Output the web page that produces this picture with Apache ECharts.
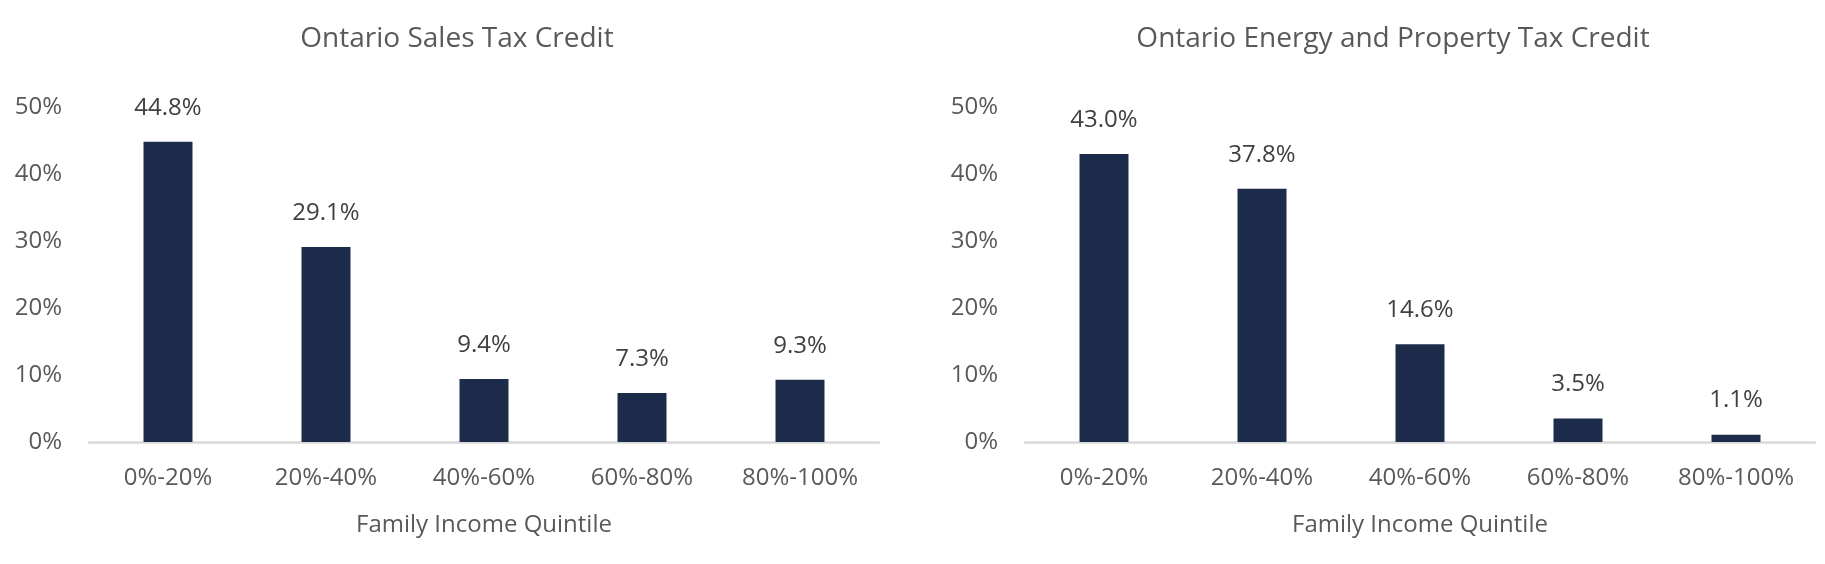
<!DOCTYPE html>
<html>
<head>
<meta charset="utf-8">
<script src="https://cdn.jsdelivr.net/npm/echarts@6/dist/echarts.min.js"></script>
<style>
  html, body { margin: 0; padding: 0; background: #fff; }
  #chart { width: 1825px; height: 564px; }
</style>
</head>
<body>
<div id="chart"></div>
<script>
const quintiles = ['0%-20%', '20%-40%', '40%-60%', '60%-80%', '80%-100%']
const salesTaxCredit = [44.8, 29.1, 9.4, 7.3, 9.3]
const energyPropertyCredit = [43.0, 37.8, 14.6, 3.5, 1.1]
const chartTitles = ['Ontario Sales Tax Credit', 'Ontario Energy and Property Tax Credit']
const axisTitle = 'Family Income Quintile'

const textColor = '#595959'
const barColor = '#1c2b4a'
const font = 'Open Sans'

function xAxisFor(idx) {
    return {
        type: 'category',
        gridIndex: idx,
        data: quintiles,
        name: axisTitle,
        nameLocation: 'middle',
        nameGap: 71,
        nameTextStyle: { color: textColor, fontSize: 24, fontFamily: font },
        axisLine: { lineStyle: { color: '#d9d9d9', width: 2.5 } },
        axisTick: { show: false },
        axisLabel: { color: textColor, fontSize: 24, fontFamily: font, margin: 24 }
    }
}

function yAxisFor(idx) {
    return {
        type: 'value',
        gridIndex: idx,
        min: 0,
        max: 50,
        interval: 10,
        splitLine: { show: false },
        axisLine: { show: false },
        axisTick: { show: false },
        axisLabel: {
            color: textColor, fontSize: 24, fontFamily: font, margin: 27,
            formatter: '{value}%'
        }
    }
}

function barSeries(idx, values) {
    return {
        type: 'bar',
        xAxisIndex: idx,
        yAxisIndex: idx,
        data: values,
        barWidth: '31%',
        itemStyle: { color: barColor },
        label: {
            show: true,
            position: 'top',
            distance: 22,
            color: '#404040',
            fontSize: 24,
            fontFamily: font,
            lineHeight: 24,
            formatter: p => p.value.toFixed(1) + '%'
        },
        silent: true,
        animation: false
    }
}

const chart = echarts.init(document.getElementById('chart'))

// titles sit over the middle of each half of the picture
chart.setOption({
    backgroundColor: '#fff',
    animation: false,
    title: [
        {
            text: chartTitles[0], left: 457, top: 25, padding: 0, textAlign: 'center',
            textStyle: { color: textColor, fontSize: 28, fontWeight: 'normal', fontFamily: font }
        },
        {
            text: chartTitles[1], left: 1393, top: 25, padding: 0, textAlign: 'center',
            textStyle: { color: textColor, fontSize: 28, fontWeight: 'normal', fontFamily: font }
        }
    ],
    grid: [
        { left: 89, top: 107, width: 790, height: 335 },
        { left: 1025, top: 107, width: 790, height: 335 }
    ],
    xAxis: [xAxisFor(0), xAxisFor(1)],
    yAxis: [yAxisFor(0), yAxisFor(1)],
    series: [barSeries(0, salesTaxCredit), barSeries(1, energyPropertyCredit)]
})
</script>
</body>
</html>
